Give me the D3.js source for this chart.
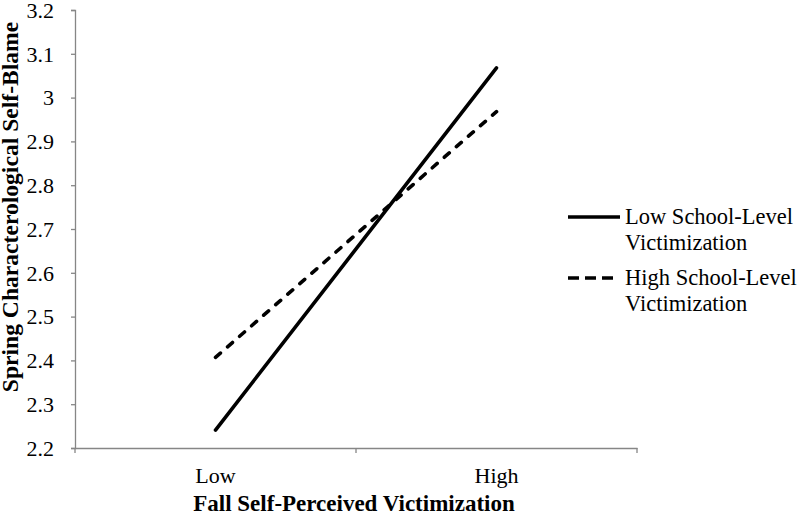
<!DOCTYPE html>
<html><head><meta charset="utf-8">
<script src="https://cdn.jsdelivr.net/npm/d3@7"></script>
<style>body{margin:0;background:#fff}svg{display:block}svg text{font-family:"Liberation Serif","Times New Roman",serif !important;fill:#000}</style>
</head><body>
<script>
const categories = ["Low", "High"];
const seriesNames = ["Low School-Level Victimization", "High School-Level Victimization"];
const lowSchool = [2.241, 3.068];
const highSchool = [2.407, 2.968];
const yTicks = [2.2, 2.3, 2.4, 2.5, 2.6, 2.7, 2.8, 2.9, 3, 3.1, 3.2];

const W = 800, H = 515;
const FONT = '"Liberation Serif","Times New Roman",serif';
const svg = d3.select("body").append("svg").attr("width", W).attr("height", H)
  .attr("font-family", FONT);
const x0 = 75, x1 = 637, yTop = 10, yBot = 448;
const x = d3.scaleBand().domain(categories).range([x0, x1]);
const y = d3.scaleLinear().domain([2.2, 3.2]).range([yBot, yTop]);
const axisColor = "#868686";

// y axis
const ya = svg.append("g").attr("transform", `translate(${x0},0)`)
  .call(d3.axisLeft(y).tickValues(yTicks).tickSize(4).tickPadding(17).tickFormat(d3.format("")));
ya.attr("font-family", FONT);
ya.select(".domain").attr("stroke", axisColor).attr("stroke-width", 1.3);
ya.selectAll(".tick line").attr("stroke", axisColor).attr("stroke-width", 1.3);
ya.selectAll(".tick text").style("font-size", "22px").attr("dy", "0.33em");

// x axis
const xa = svg.append("g").attr("transform", `translate(0,${yBot})`)
  .call(d3.axisBottom(x).tickSize(0).tickPadding(19));
xa.attr("font-family", FONT);
xa.select(".domain").attr("stroke", axisColor).attr("stroke-width", 1.3);
xa.selectAll(".tick text").style("font-size", "22px");
// category boundary ticks
const bounds = [x0, x0 + x.bandwidth(), x1];
svg.append("g").selectAll("line").data(bounds).join("line")
  .attr("x1", d => d).attr("x2", d => d).attr("y1", yBot).attr("y2", yBot + 5)
  .attr("stroke", axisColor).attr("stroke-width", 1.3);

const line = d3.line().x((d, i) => x(categories[i]) + x.bandwidth() / 2).y(d => y(d));
svg.append("path").datum(lowSchool).attr("d", line).attr("fill", "none")
  .attr("stroke", "#000").attr("stroke-width", 3.6).attr("stroke-linecap", "round");
svg.append("path").datum(highSchool).attr("d", line).attr("fill", "none")
  .attr("stroke", "#000").attr("stroke-width", 3.6).attr("stroke-dasharray", "6.5,9.5").attr("stroke-linecap", "round");

// legend
const leg = [
  {y: 217, x2: 620, dash: null, lines: ["Low School-Level", "Victimization"]},
  {y: 278, x2: 613, dash: "11,6", lines: ["High School-Level", "Victimization"]}
];
leg.forEach(l => {
  svg.append("line").attr("x1", 568).attr("x2", l.x2).attr("y1", l.y).attr("y2", l.y)
    .attr("stroke", "#000").attr("stroke-width", 3.6).attr("stroke-dasharray", l.dash);
  const t = svg.append("text").attr("x", 625).attr("y", l.y + 7).style("font-size", "22.5px");
  t.append("tspan").attr("x", 625).text(l.lines[0]);
  t.append("tspan").attr("x", 625).attr("dy", 26).text(l.lines[1]);
});

// axis titles
svg.append("text").attr("x", 354).attr("y", 511).attr("text-anchor", "middle")
  .style("font-size", "23px").style("font-weight", "bold").text("Fall Self-Perceived Victimization");
svg.append("text").attr("transform", `translate(18,207) rotate(-90)`)
  .attr("text-anchor", "middle").style("font-size", "23.6px").style("font-weight", "bold")
  .text("Spring Characterological Self-Blame");
</script>
</body></html>
